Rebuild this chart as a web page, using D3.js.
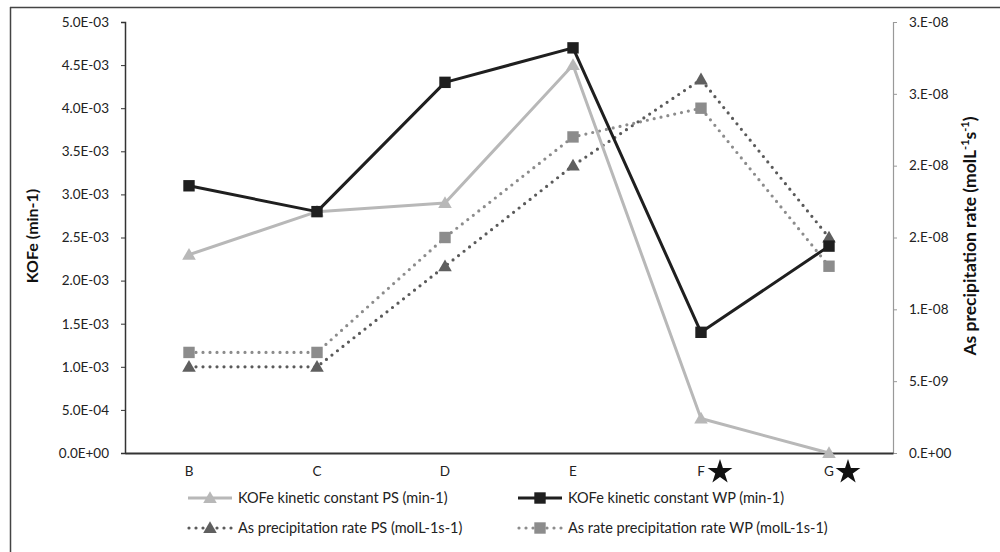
<!DOCTYPE html>
<html><head><meta charset="utf-8">
<script src="https://cdn.jsdelivr.net/npm/d3@7"></script>
<style>body{margin:0;background:#fff}svg{display:block;font-family:Lato,"Open Sans",sans-serif}</style>
</head><body><svg id="c" width="1000" height="552"></svg>
<script>
const categories = ["B","C","D","E","F","G"];
const starred = ["F","G"];
const kofePS = [2.3e-3, 2.8e-3, 2.9e-3, 4.5e-3, 4.0e-4, 0];
const kofeWP = [3.1e-3, 2.8e-3, 4.3e-3, 4.7e-3, 1.4e-3, 2.4e-3];
const asPS = [6e-9, 6e-9, 1.3e-8, 2.0e-8, 2.6e-8, 1.5e-8];
const asWP = [7e-9, 7e-9, 1.5e-8, 2.2e-8, 2.4e-8, 1.3e-8];
const leftTicks = [0,5e-4,1e-3,1.5e-3,2e-3,2.5e-3,3e-3,3.5e-3,4e-3,4.5e-3,5e-3];
const leftTickLabels = ["0.0E+00","5.0E-04","1.0E-03","1.5E-03","2.0E-03","2.5E-03","3.0E-03","3.5E-03","4.0E-03","4.5E-03","5.0E-03"];
const rightTicks = [0,5e-9,1e-8,1.5e-8,2e-8,2.5e-8,3e-8];
const rightTickLabels = ["0.E+00","5.E-09","1.E-08","2.E-08","2.E-08","3.E-08","3.E-08"];
const legendLabels = ["KOFe kinetic constant PS (min-1)","KOFe kinetic constant WP (min-1)","As precipitation rate PS (molL-1s-1)","As rate precipitation rate WP (molL-1s-1)"];

const svg = d3.select("#c");
const L = 125, R = 893, T = 22, B = 453;
const x = d3.scaleBand().domain(categories).range([L, R]);
const yL = d3.scaleLinear().domain([0, 5e-3]).range([B, T]);
const yR = d3.scaleLinear().domain([0, 3e-8]).range([B, T]);
const cx = c => x(c) + x.bandwidth()/2;

// frame (top & left visible)
svg.append("line").attr("x1",10).attr("x2",1000).attr("y1",7.5).attr("y2",7.5).attr("stroke","#444").attr("stroke-width",1.5);
svg.append("line").attr("x1",10.5).attr("x2",10.5).attr("y1",7).attr("y2",552).attr("stroke","#444").attr("stroke-width",1.5);

// left axis
const gl = svg.append("g").attr("transform",`translate(${L},0)`)
  .call(d3.axisLeft(yL).tickValues(leftTicks).tickFormat((d,i)=>leftTickLabels[i]).tickSize(4).tickPadding(12));
gl.select(".domain").attr("stroke","#333").attr("stroke-width",1.5);
gl.selectAll(".tick line").attr("stroke","#333");
gl.selectAll("text").attr("font-size",13.5).attr("fill","#222").attr("font-family","Lato");

// right axis
const gr = svg.append("g").attr("transform",`translate(${R},0)`)
  .call(d3.axisRight(yR).tickValues(rightTicks).tickFormat((d,i)=>rightTickLabels[i]).tickSize(4).tickPadding(12));
gr.select(".domain").attr("stroke","#999").attr("stroke-width",1.2);
gr.selectAll(".tick line").attr("stroke","#999");
gr.selectAll("text").attr("font-size",13.5).attr("fill","#222").attr("font-family","Lato");

// x axis
const gx = svg.append("g").attr("transform",`translate(0,${B})`)
  .call(d3.axisBottom(x).tickSize(0).tickPadding(13));
gx.select(".domain").attr("stroke","#333").attr("stroke-width",2);
gx.selectAll("text").attr("font-size",13.5).attr("fill","#222").attr("font-family","Lato");

// stars
const star = d3.symbol().type(d3.symbolStar).size(190);
svg.selectAll(".star").data(starred).enter().append("path")
  .attr("d", star).attr("fill","#111")
  .attr("transform", d => `translate(${cx(d)+19},${B+19})`);

// axis titles
svg.append("text").attr("transform",`translate(38,236) rotate(-90)`).attr("text-anchor","middle")
  .attr("font-size",16).attr("font-weight","bold").attr("fill","#111").text("KOFe (min-1)");
const rt = svg.append("text").attr("transform",`translate(976,236) rotate(-90)`).attr("text-anchor","middle")
  .attr("font-size",17.5).attr("font-weight","bold").attr("fill","#111");
rt.append("tspan").text("As precipitation rate (molL");
rt.append("tspan").attr("dy",-7).attr("font-size",11).text("-1");
rt.append("tspan").attr("dy",7).text("s");
rt.append("tspan").attr("dy",-7).attr("font-size",11).text("-1");
rt.append("tspan").attr("dy",7).text(")");

// series
const series = [
  {vals: asWP, y: yR, color:"#8c8c8c", dash:"0,7", width:3.2, cap:"round", mk:"square", mcolor:"#8c8c8c"},
  {vals: asPS, y: yR, color:"#5a5a5a", dash:"0,7", width:3.2, cap:"round", mk:"triangle", mcolor:"#5f5f5f"},
  {vals: kofePS, y: yL, color:"#b8b8b8", dash:null, width:3, cap:"butt", mk:"triangle", mcolor:"#b8b8b8"},
  {vals: kofeWP, y: yL, color:"#1f1f1f", dash:null, width:3, cap:"butt", mk:"square", mcolor:"#1f1f1f"}
];
const sym = {square: d3.symbol().type(d3.symbolSquare).size(130), triangle: d3.symbol().type(d3.symbolTriangle).size(80)};
series.forEach(s => {
  const line = d3.line().x((d,i)=>cx(categories[i])).y(d=>s.y(d));
  const p = svg.append("path").datum(s.vals).attr("d", line).attr("fill","none")
    .attr("stroke", s.color).attr("stroke-width", s.width).attr("stroke-linecap", s.cap).attr("stroke-linejoin","round");
  if (s.dash) p.attr("stroke-dasharray", s.dash);
  svg.append("g").selectAll("path").data(s.vals).enter().append("path")
    .attr("d", sym[s.mk]).attr("fill", s.mcolor)
    .attr("transform",(d,i)=>`translate(${cx(categories[i])},${s.y(d) + (s.mk==="triangle"?1:0)})`);
});

// legend
const leg = [
  {s: series[2], x: 188, y: 498, label: legendLabels[0]},
  {s: series[3], x: 518, y: 498, label: legendLabels[1]},
  {s: series[1], x: 188, y: 528, label: legendLabels[2]},
  {s: series[0], x: 518, y: 528, label: legendLabels[3]}
];
leg.forEach(l => {
  const g = svg.append("g");
  const ln = g.append("line").attr("x1", l.x).attr("x2", l.x+44).attr("y1", l.y).attr("y2", l.y)
    .attr("stroke", l.s.color).attr("stroke-width", l.s.width).attr("stroke-linecap", l.s.cap);
  if (l.s.dash) ln.attr("stroke-dasharray","0,7").attr("x1", l.x+1);
  g.append("path").attr("d", sym[l.s.mk]).attr("fill", l.s.mcolor).attr("transform",`translate(${l.x+22},${l.y+(l.s.mk==="triangle"?1:0)})`);
  g.append("text").attr("x", l.x+50).attr("y", l.y).attr("dy","0.35em").attr("font-size",14.5).attr("fill","#222").text(l.label);
});
</script></body></html>
